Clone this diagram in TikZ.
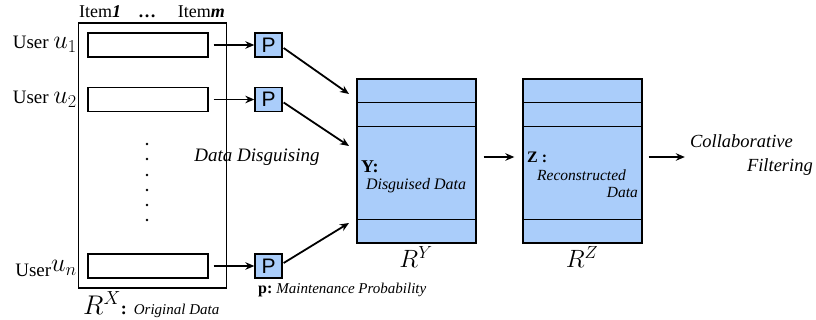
\RequirePackage{fix-cm}
\documentclass[tikz,border=0pt]{standalone}
\usepackage[no-math]{fontspec}
\setmainfont{Liberation Serif}[ItalicFont={Liberation Serif Italic},BoldFont={Liberation Serif Bold},BoldItalicFont={Liberation Serif Bold Italic}]
\newfontfamily\tim{Liberation Serif}[ItalicFont={Liberation Serif Italic},BoldFont={Liberation Serif Bold},BoldItalicFont={Liberation Serif Bold Italic}]
\newfontfamily\psans{Liberation Sans}
\usetikzlibrary{arrows.meta,calc}
\definecolor{lb}{RGB}{170,205,250}
\newcommand{\fs}[1]{\fontsize{#1}{#1}\selectfont}
\begin{document}
\begin{tikzpicture}[x=1pt,y=-1pt,
  frame/.style={draw,line width=1.3pt,inner sep=0pt},
  rowbox/.style={draw,line width=1.3pt,minimum width=120pt,minimum height=24pt,inner sep=0pt},
  pbox/.style={draw,fill=lb,line width=1.3pt,minimum width=27pt,minimum height=24pt,inner sep=0pt,font=\psans\fs{21}},
  mat/.style={draw,fill=lb,line width=1.3pt,minimum width=119pt,minimum height=164pt,inner sep=0pt},
  sep/.style={line width=1.3pt},
  arr/.style={-{Stealth[length=9pt,width=7.5pt]},line width=1.8pt},
  lbl/.style={inner sep=0pt},
  it/.style={inner sep=0pt,font=\tim\itshape\fs{#1}},
  ]
\useasboundingbox (0,0) rectangle (816,320);

% original data matrix
\node[frame,minimum width=148pt,minimum height=265pt] (RX) at (152.5,155.5) {};
\node[rowbox] (r1) at (148,45) {};
\node[rowbox] (r2) at (148,99.5) {};
\node[rowbox] (rn) at (148,266) {};
\foreach \yy in {144,159,175,190,205,220} \fill (147,\yy) circle (1.3pt);

% column labels
\node[lbl,anchor=base west,font=\tim\fs{18}] (it1) at (79,18) {Item\textbf{\textit{1}}};
\node[lbl,anchor=base,font=\tim\fs{18}] (itd) at (147,18) {\textbf{\dots}};
\node[lbl,anchor=base east,font=\tim\fs{18}] (itm) at (225,18) {Item\textbf{\textit{m}}};

% user labels
\node[lbl,anchor=base east,font=\tim\fs{19}] (u1) at (77,49) {User {\fs{26}$u_1$}};
\node[lbl,anchor=base east,font=\tim\fs{19}] (u2) at (77,103.5) {User {\fs{26}$u_2$}};
\node[lbl,anchor=base east,font=\tim\fs{19}] (un) at (77,272) {\raisebox{-5pt}{User}{\fs{26}$u_n$}};

% P boxes
\node[pbox] (p1) at (268.5,45) {P};
\node[pbox] (p2) at (268.5,99.5) {P};
\node[pbox] (pn) at (268.5,266) {P};
\draw[arr] ([xshift=5pt]r1.east) -- (p1.west);
\draw[arr] ([xshift=5pt]r2.east) -- (p2.west);
\draw[arr] ([xshift=5pt]rn.east) -- (pn.west);

% disguised matrix
\node[mat] (Y) at (416.5,161) {};
\draw[sep] (Y.north west) ++(0,24) -- ++(119,0);
\draw[sep] (Y.north west) ++(0,48) -- ++(119,0);
\draw[sep] (Y.north west) ++(0,141) -- ++(119,0);
\node[lbl,anchor=west,font=\tim\bfseries\fs{18}] (ylab) at (361,167) {Y:};
\node[it=16] (ytxt) at (416,186) {Disguised Data};
\node[lbl,anchor=base,font=\fs{25}] (RY) at (416,268) {$R^Y$};

% reconstructed matrix
\node[mat] (Z) at (582.5,161) {};
\draw[sep] (Z.north west) ++(0,24) -- ++(119,0);
\draw[sep] (Z.north west) ++(0,48) -- ++(119,0);
\draw[sep] (Z.north west) ++(0,141) -- ++(119,0);
\node[lbl,anchor=west,font=\tim\bfseries\fs{16}] (zlab) at (527,157) {Z :};
\node[it=15.5,anchor=west] (ztxt1) at (537,175) {Reconstructed};
\node[it=15.5,anchor=east] (ztxt2) at (638,193) {Data};
\node[lbl,anchor=base,font=\fs{25}] (RZ) at (582,268) {$R^Z$};

% arrows to Y
\coordinate (t1) at (349,94);
\coordinate (t2) at (349,146);
\coordinate (tn) at (349,223);
\draw[arr] (p1.east) ++(1,3) -- (t1);
\draw[arr] (p2.east) ++(1,3) -- (t2);
\draw[arr] (pn.east) ++(1,-3) -- (tn);

\draw[arr] ($(Y.east)+(7,-4)$) -- ($(Z.west)+(-8,-4)$);

% collaborative filtering
\node[inner sep=0pt,anchor=east,align=right,font=\tim\itshape\fontsize{18.5}{24}\selectfont] (cf) at (813,155) {Collaborative\hspace*{20pt}\\ Filtering};
\draw[arr] ($(Z.east)+(6,-4)$) -- ($(cf.west)+(-5,2)$);

% other labels
\node[it=19] (dd) at (257,157) {Data Disguising};
\node[lbl,anchor=base west,font=\tim\fs{27}] (rx) at (83,314) {$R^X${\fs{18}\bfseries:}\hspace{7pt}{\itshape\fs{15}Original Data}};
\node[lbl,anchor=base west,font=\tim\fs{16}] (pp) at (258,293) {\textbf{p:}\hspace{4pt}{\itshape\fs{15}Maintenance Probability}};
\end{tikzpicture}
\end{document}
